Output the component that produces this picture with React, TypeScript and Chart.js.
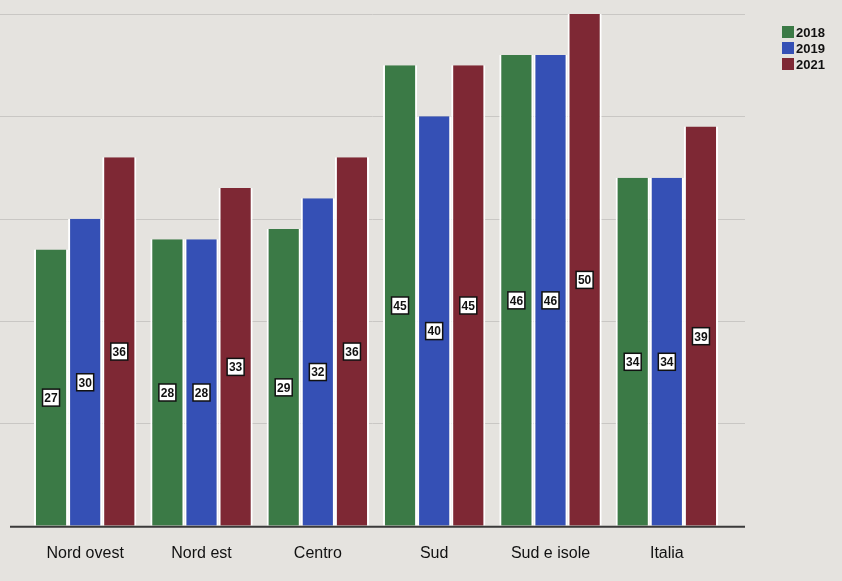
import React, { useEffect, useRef } from "react";
import { Chart, registerables } from "chart.js";

Chart.register(...registerables);

const categories = ["Nord ovest", "Nord est", "Centro", "Sud", "Sud e isole", "Italia"];
const seriesNames = ["2018", "2019", "2021"];
const values2018 = [27, 28, 29, 45, 46, 34];
const values2019 = [30, 28, 32, 40, 46, 34];
const values2021 = [36, 33, 36, 45, 50, 39];
const seriesColors = ["#3b7a46", "#3550b5", "#7e2834"];
const yTicks = [0, 10, 20, 30, 40, 50];

export default function App() {
  const ref = useRef<HTMLCanvasElement>(null);
  useEffect(() => {
    const canvas = ref.current!;
    const bgPlugin = {
      id: "bg",
      beforeDraw(chart: any) {
        const c = chart.ctx;
        c.save();
        c.fillStyle = "#e5e3df";
        c.fillRect(0, 0, chart.width, chart.height);
        const ys = chart.scales.y;
        c.strokeStyle = "#c9c7c4";
        c.lineWidth = 1;
        yTicks.forEach((t) => {
          if (t === 0) return;
          const y = Math.round(ys.getPixelForValue(t)) + 0.5;
          c.beginPath();
          c.moveTo(0, y);
          c.lineTo(745, y);
          c.stroke();
        });
        c.restore();
      },
      afterDatasetsDraw(chart: any) {
        const c = chart.ctx;
        const ys = chart.scales.y;
        c.save();
        const y0 = ys.getPixelForValue(0);
        c.strokeStyle = "#3a3a3a";
        c.lineWidth = 2;
        c.beginPath();
        c.moveTo(10, y0 + 1);
        c.lineTo(745, y0 + 1);
        c.stroke();
        // value labels
        c.font = "bold 12px 'Liberation Sans', Arial, sans-serif";
        c.textAlign = "center";
        c.textBaseline = "middle";
        chart.data.datasets.forEach((ds: any, di: number) => {
          const meta = chart.getDatasetMeta(di);
          meta.data.forEach((bar: any, i: number) => {
            const v = ds.data[i];
            const x = bar.x;
            const y = (bar.y + bar.base) / 2 + 10;
            const w = 17, h = 17;
            c.fillStyle = "#ffffff";
            c.fillRect(x - w / 2, y - h / 2, w, h);
            c.strokeStyle = "#111";
            c.lineWidth = 1.5;
            c.strokeRect(x - w / 2, y - h / 2, w, h);
            c.fillStyle = "#111";
            c.fillText(String(v), x, y + 1);
          });
        });
        // legend
        c.font = "bold 13px 'Liberation Sans', Arial, sans-serif";
        c.textAlign = "left";
        c.textBaseline = "middle";
        seriesNames.forEach((n, i) => {
          const ly = 32 + i * 16;
          c.fillStyle = seriesColors[i];
          c.fillRect(782, ly - 6, 12, 12);
          c.fillStyle = "#111";
          c.fillText(n, 796, ly + 1);
        });
        c.restore();
      },
    };
    const chart = new Chart(canvas, {
      type: "bar",
      data: {
        labels: categories,
        datasets: [values2018, values2019, values2021].map((d, i) => ({
          label: seriesNames[i],
          data: d,
          backgroundColor: seriesColors[i],
          borderColor: "#ffffff",
          borderWidth: { left: 2, right: 2, top: 0, bottom: 0 },
          borderSkipped: false,
          categoryPercentage: 0.88,
          barPercentage: 1,
        })),
      },
      options: {
        responsive: false,
        animation: false,
        layout: { padding: { left: 27, right: 117, top: 14, bottom: 0 } },
        plugins: { legend: { display: false }, tooltip: { enabled: false } },
        scales: {
          x: {
            grid: { display: false, drawTicks: false },
            border: { display: false },
            ticks: {
              color: "#111",
              padding: 18,
              font: { family: "'Liberation Sans', Arial, sans-serif", size: 16 },
            },
          },
          y: {
            display: false,
            min: 0,
            max: 50,
            ticks: { stepSize: 10 },
          },
        },
      },
      plugins: [bgPlugin],
    });
    return () => chart.destroy();
  }, []);
  return (
    <div style={{ position: "fixed", left: 0, top: 0, width: 842, height: 581 }}>
      <canvas ref={ref} width={842} height={581} style={{ width: 842, height: 581 }} />
    </div>
  );
}
